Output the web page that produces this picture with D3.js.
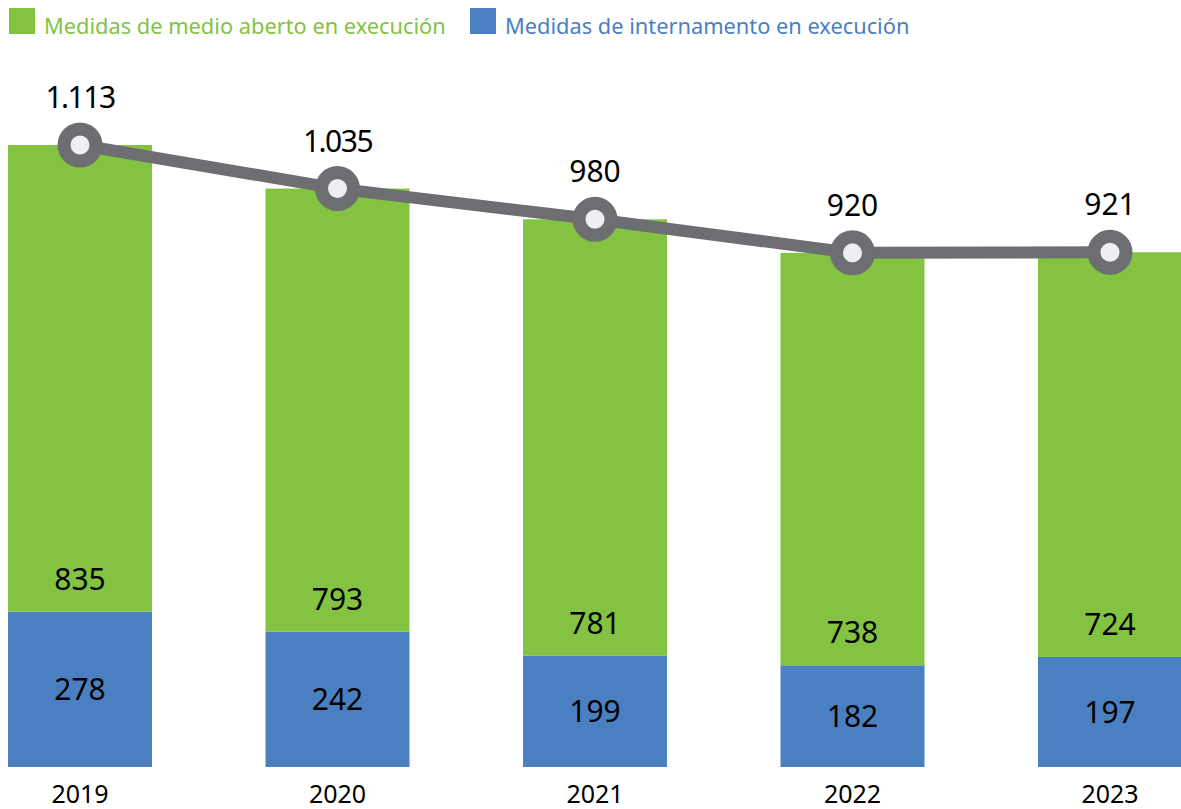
<!DOCTYPE html>
<html>
<head>
<meta charset="utf-8">
<script src="https://cdn.jsdelivr.net/npm/d3@7"></script>
<style>
  body { margin: 0; background: #fff; }
  svg { display: block; font-family: "Noto Sans", "Open Sans", sans-serif; }
</style>
</head>
<body>
<svg width="1181" height="809"></svg>
<script>
var years = ['2019', '2020', '2021', '2022', '2023'];
var medioAberto = [835, 793, 781, 738, 724];
var internamento = [278, 242, 199, 182, 197];
var totals = [1113, 1035, 980, 920, 921];
var totalLabels = ['1.113', '1.035', '980', '920', '921'];

var green = '#83c341';
var blue = '#4a80c2';
var grey = '#6d6e71';

var svg = d3.select('svg');

var step = 257.5, bw = 144;
var x = d3.scaleBand()
  .domain(years)
  .range([8 - (step - bw) / 2, 8 - (step - bw) / 2 + step * years.length])
  .paddingInner((step - bw) / step)
  .paddingOuter((step - bw) / step / 2);

var y = d3.scaleLinear()
  .domain([0, 1200])
  .range([767, 767 - 1200 * (622 / 1113)]);

// blue bars (internamento) at the bottom
svg.selectAll('rect.blue')
  .data(years)
  .enter()
  .append('rect')
  .attr('class', 'blue')
  .attr('x', function(d) { return x(d); })
  .attr('width', x.bandwidth())
  .attr('y', function(d, i) { return y(internamento[i]); })
  .attr('height', function(d, i) { return y(0) - y(internamento[i]); })
  .attr('fill', blue);

// green bars stacked on top
svg.selectAll('rect.green')
  .data(years)
  .enter()
  .append('rect')
  .attr('class', 'green')
  .attr('x', function(d) { return x(d); })
  .attr('width', x.bandwidth())
  .attr('y', function(d, i) { return y(internamento[i] + medioAberto[i]); })
  .attr('height', function(d, i) { return y(internamento[i]) - y(internamento[i] + medioAberto[i]); })
  .attr('fill', green);

// segment labels
svg.selectAll('text.blueLbl')
  .data(years)
  .enter()
  .append('text')
  .attr('x', function(d) { return x(d) + x.bandwidth() / 2; })
  .attr('y', function(d, i) { return (y(0) + y(internamento[i])) / 2 + 11; })
  .attr('text-anchor', 'middle')
  .attr('font-size', 30)
  .attr('fill', '#000')
  .text(function(d, i) { return internamento[i]; });

svg.selectAll('text.greenLbl')
  .data(years)
  .enter()
  .append('text')
  .attr('x', function(d) { return x(d) + x.bandwidth() / 2; })
  .attr('y', function(d, i) { return y(internamento[i]) - 22; })
  .attr('text-anchor', 'middle')
  .attr('font-size', 30)
  .attr('fill', '#000')
  .text(function(d, i) { return medioAberto[i]; });

// total line
var line = d3.line()
  .x(function(d, i) { return x(years[i]) + x.bandwidth() / 2; })
  .y(function(d) { return y(d); });

svg.append('path')
  .datum(totals)
  .attr('d', line)
  .attr('fill', 'none')
  .attr('stroke', grey)
  .attr('stroke-width', 12);

svg.selectAll('circle')
  .data(totals)
  .enter()
  .append('circle')
  .attr('cx', function(d, i) { return x(years[i]) + x.bandwidth() / 2; })
  .attr('cy', function(d) { return y(d); })
  .attr('r', 16)
  .attr('fill', '#eeeff3')
  .attr('stroke', grey)
  .attr('stroke-width', 13);

svg.selectAll('text.total')
  .data(totals)
  .enter()
  .append('text')
  .attr('x', function(d, i) { return x(years[i]) + x.bandwidth() / 2; })
  .attr('y', function(d) { return y(d) - 37; })
  .attr('text-anchor', 'middle')
  .attr('font-size', 30)
  .attr('letter-spacing', function(d, i) { return totalLabels[i].indexOf('.') >= 0 ? -1.5 : 0; })
  .attr('fill', '#000')
  .text(function(d, i) { return totalLabels[i]; });

// year axis labels
svg.selectAll('text.year')
  .data(years)
  .enter()
  .append('text')
  .attr('x', function(d) { return x(d) + x.bandwidth() / 2; })
  .attr('y', 803)
  .attr('text-anchor', 'middle')
  .attr('font-size', 25)
  .attr('fill', '#000')
  .text(function(d) { return d; });

// legend
var legend = [
  { label: 'Medidas de medio aberto en execución', color: green, x: 9 },
  { label: 'Medidas de internamento en execución', color: blue, x: 470 }
];
var lg = svg.selectAll('g.legend')
  .data(legend)
  .enter()
  .append('g')
  .attr('transform', function(d) { return 'translate(' + d.x + ',8)'; });
lg.append('rect')
  .attr('width', 26)
  .attr('height', 26)
  .attr('fill', function(d) { return d.color; });
lg.append('text')
  .attr('x', 35)
  .attr('y', 26)
  .attr('font-size', 21.8)
  .attr('fill', function(d) { return d.color; })
  .text(function(d) { return d.label; });
</script>
</body>
</html>
